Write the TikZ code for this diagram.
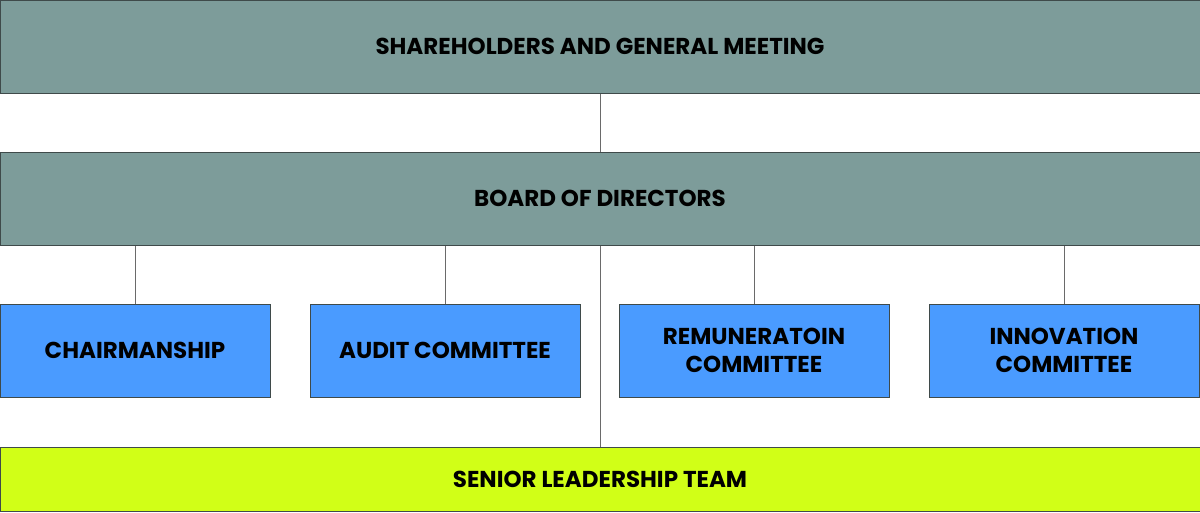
\documentclass[tikz,border=0pt]{standalone}
\usepackage{fontspec}
\setmainfont{Poppins}
\definecolor{teal}{HTML}{7D9C9A}
\definecolor{bluebox}{HTML}{4A9BFF}
\definecolor{lime}{HTML}{D1FF17}
\definecolor{edge}{HTML}{3F4A4A}
\definecolor{conn}{HTML}{6A6A6A}
\tikzset{
  box/.style={draw=edge,line width=1pt,rectangle,inner sep=0pt,align=center,
    font=\fontsize{23}{28}\selectfont\bfseries,text=black},
  wide/.style={box,minimum width=1200pt,minimum height=93pt,fill=teal},
  comm/.style={box,minimum width=270pt,minimum height=93pt,fill=bluebox},
  slt/.style={box,minimum width=1200pt,minimum height=64pt,fill=lime},
  link/.style={draw=conn,line width=0.9pt}
}
\begin{document}
\begin{tikzpicture}[x=1pt,y=-1pt]
\useasboundingbox (0,0) rectangle (1200,512);
\node[wide] (sh) at (600,46.5) {SHAREHOLDERS AND GENERAL MEETING};
\node[wide] (bd) at (600,198.5) {BOARD OF DIRECTORS};
\node[comm] (c1) at (135,350.5) {CHAIRMANSHIP};
\node[comm] (c2) at (445,350.5) {AUDIT COMMITTEE};
\node[comm] (c3) at (754,350.5) {REMUNERATOIN\\COMMITTEE};
\node[comm] (c4) at (1064,350.5) {INNOVATION\\COMMITTEE};
\node[slt] (sl) at (600,479.5) {SENIOR LEADERSHIP TEAM};
\draw[link] (sh.south) -- (bd.north);
\draw[link] (bd.south) -- (sl.north);
\foreach \c in {c1,c2,c3,c4}{
  \draw[link] (\c.north) -- (\c.north |- bd.south);
}
\end{tikzpicture}
\end{document}
